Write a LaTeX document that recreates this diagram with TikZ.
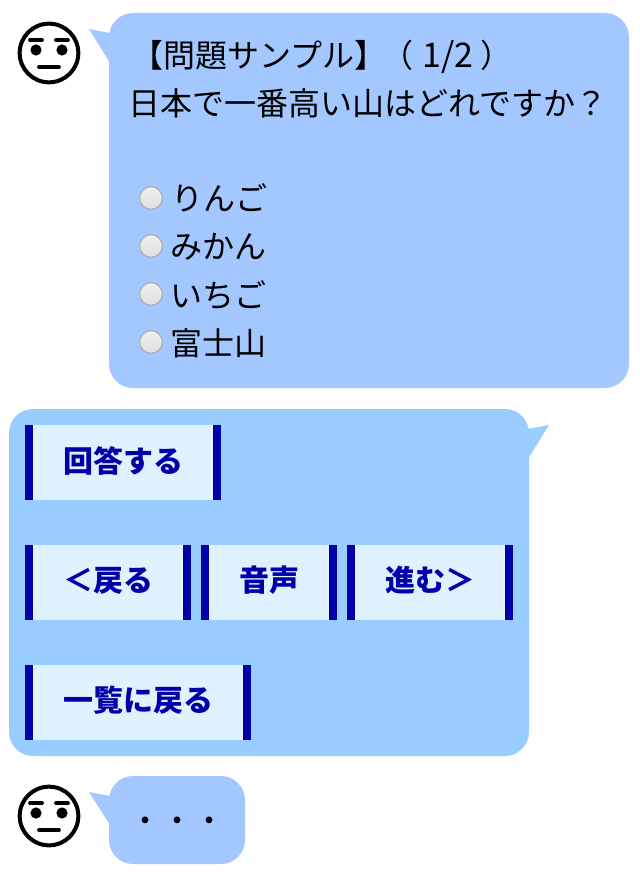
\documentclass[tikz,border=0pt]{standalone}
\usepackage{fontspec}
\setmainfont{Noto Sans CJK JP}
\definecolor{bubbleA}{HTML}{A3C8FF}
\definecolor{bubbleB}{HTML}{99CCFF}
\definecolor{btnfill}{HTML}{E0F2FF}
\definecolor{btnbar}{HTML}{0000AA}
\definecolor{radioedge}{HTML}{ABABAB}
\newcommand{\facedraw}[3]{%
  \begin{scope}[shift={(#1,#2)}]
    \node[facering] (#3) at (0,0) {};
    \fill (-13,-3) circle[radius=5.6];
    \fill (13,-3) circle[radius=5.6];
    \draw[facestroke] (-19,-13) -- (-7,-13);
    \draw[facestroke] (7,-13) -- (19,-13);
    \draw[facestroke] (-10,14) -- (10,14);
  \end{scope}}
\newcommand{\btndraw}[5]{% name, x1, x2, y1, text
  \path[fill=btnfill] (#2,#4) rectangle (#3,#4+75);
  \fill[btnbar] (#2,#4) rectangle (#2+8,#4+75);
  \fill[btnbar] (#3-8,#4) rectangle (#3,#4+75);
  \node[btnlabel] (#1) at ({(#2+#3)/2+0.5},#4+35.5) {#5};}
\tikzset{
  x=0.75pt,y=-0.75pt,
  facering/.style={circle,draw=black,line width=3pt,fill=white,minimum size=44pt,inner sep=0pt},
  facestroke/.style={line width=2.8pt,line cap=round},
  btnlabel/.style={font=\fontsize{22.5pt}{27pt}\selectfont\bfseries,text=btnbar,inner sep=0pt},
  chat/.style={font=\fontsize{24pt}{29pt}\selectfont,text=black,inner sep=0pt,anchor=base west},
  radiob/.style={circle,draw=radioedge,line width=0.8pt,top color=gray!12,bottom color=gray!25,minimum size=17pt,inner sep=0pt},
}
\begin{document}
\begin{tikzpicture}
\useasboundingbox (0,0) rectangle (639,873);
% top bubble
\fill[bubbleA,rounded corners=18pt] (109,13) rectangle (629,388);
\fill[bubbleA] (89,29) -- (110,33) -- (110,63) -- cycle;
\facedraw{49}{53}{faceone}
\node[chat] (title) at (131,68) {【問題サンプル】\kern-3.75pt（\kern6.75pt{\fontsize{25.5pt}{29pt}\selectfont 1/2}\kern5.25pt ）};
\node[chat] (question) at (128,116) {日本で一番高い山はどれですか？};
\node[radiob] (r1) at (151,198) {};
\node[radiob] (r2) at (151,246) {};
\node[radiob] (r3) at (151,294) {};
\node[radiob] (r4) at (151,342) {};
\node[chat] (a1) at (171,211) {りんご};
\node[chat] (a2) at (170,259) {みかん};
\node[chat] (a3) at (170,307) {いちご};
\node[chat] (a4) at (170,355) {富士山};
% middle bubble
\fill[bubbleB,rounded corners=18pt] (9,409) rectangle (529,756);
\fill[bubbleB] (549,425) -- (528,429) -- (528,459) -- cycle;
\btndraw{b1}{25}{221}{425}{回答する}
\btndraw{b2}{25}{191}{545}{＜戻る}
\btndraw{b3}{201}{337}{545}{音声}
\btndraw{b4}{347}{513}{545}{進む＞}
\btndraw{b5}{25}{251}{665}{一覧に戻る}
% bottom bubble
\fill[bubbleA,rounded corners=18pt] (109,776) rectangle (245,864);
\fill[bubbleA] (89,792) -- (110,796) -- (110,825) -- cycle;
\facedraw{49}{816}{facetwo}
\node[chat] (dots) at (129,832) {・・・};
\end{tikzpicture}
\end{document}
